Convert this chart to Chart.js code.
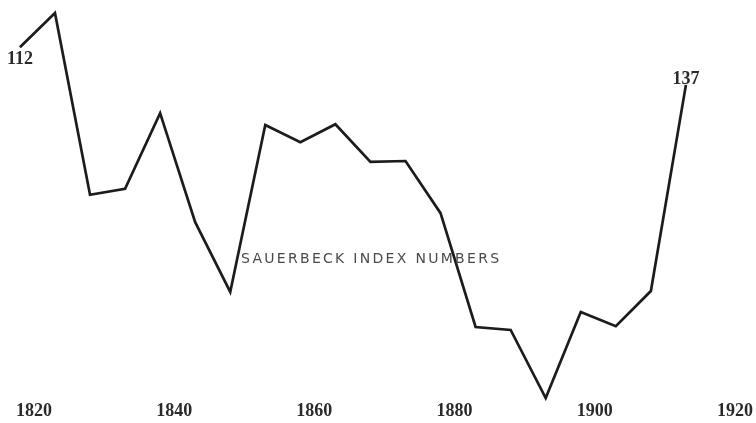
<!DOCTYPE html>
<html>
<head>
<meta charset="utf-8">
<script src="https://cdn.jsdelivr.net/npm/chart.js@4"></script>
<style>
  html, body { margin: 0; padding: 0; background: #fff; }
  #wrap { width: 756px; height: 423px; }
</style>
</head>
<body>
<div id="wrap"><canvas id="chart" width="756" height="423"></canvas></div>
<script>
// five-year points
const years = [1818, 1823, 1828, 1833, 1838, 1843, 1848, 1853, 1858, 1863,
               1868, 1873, 1878, 1883, 1888, 1893, 1898, 1903, 1908, 1913];
const indexValues = [142.0, 150.0, 107.5, 108.9, 126.6, 101.1, 84.8, 123.8, 119.8, 124.0,
                     115.2, 115.4, 103.2, 76.6, 75.9, 60.0, 80.1, 76.8, 85.0, 133.2];
const xTicks = [1820, 1840, 1860, 1880, 1900, 1920];
const startLabel = "112";
const endLabel = "137";
const caption = "SAUERBECK INDEX NUMBERS";

const notes = {
  id: "notes",
  afterDatasetsDraw(chart) {
    const { ctx, scales: { x, y } } = chart;
    const n = years.length - 1;
    ctx.save();
    ctx.fillStyle = "#2a2a2a";
    ctx.font = "bold 18px 'Liberation Serif'";
    ctx.textAlign = "center";
    ctx.textBaseline = "top";
    ctx.fillText(startLabel, x.getPixelForValue(years[0]), y.getPixelForValue(indexValues[0]) + 3);
    ctx.textBaseline = "bottom";
    ctx.fillText(endLabel, x.getPixelForValue(years[n]), y.getPixelForValue(indexValues[n]) + 3);

    ctx.fillStyle = "#4a4a4a";
    ctx.font = "14px 'DejaVu Sans'";
    ctx.letterSpacing = "2.3px";
    ctx.textBaseline = "middle";
    ctx.fillText(caption, x.getPixelForValue(1868.1), y.getPixelForValue(92.5));
    ctx.restore();
  }
};

new Chart(document.getElementById("chart"), {
  type: "line",
  data: {
    datasets: [
      {
        label: "Sauerbeck",
        data: years.map((yr, i) => ({ x: yr, y: indexValues[i] })),
        borderColor: "#1c1c1c",
        borderWidth: 2.7,
        pointRadius: 0,
        fill: false,
        tension: 0,
        clip: false,
      },
    ],
  },
  options: {
    responsive: false,
    animation: false,
    devicePixelRatio: 1,
    layout: { padding: 0 },
    plugins: {
      legend: { display: false },
      tooltip: { enabled: false },
    },
    scales: {
      x: {
        type: "linear",
        min: 1815.16,
        max: 1922.67,
        grid: { display: false, drawTicks: false },
        border: { display: false },
        afterBuildTicks: (scale) => {
          scale.ticks = xTicks.map((v) => ({ value: v }));
        },
        ticks: {
          color: "#2a2a2a",
          padding: 3,
          maxRotation: 0,
          font: { family: "'Liberation Serif'", size: 18, weight: "bold", lineHeight: 1 },
          callback: (v) => String(v),
        },
      },
      y: {
        display: false,
        min: 59.77,
        max: 153.04,
      },
    },
  },
  plugins: [notes],
});
</script>
</body>
</html>
